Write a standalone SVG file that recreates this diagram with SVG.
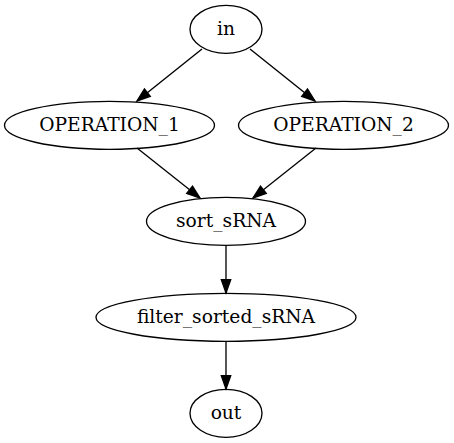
<svg xmlns="http://www.w3.org/2000/svg" width="454" height="443" viewBox="0 0 454 443">
<style>
.n ellipse{fill:none;stroke:#000;stroke-width:1.33}
.n text{font-family:"DejaVu Serif","Liberation Serif",serif;font-size:18.67px;text-anchor:middle;fill:#000}
.e line{stroke:#000;stroke-width:1.33;marker-end:url(#ah)}
</style>
<defs>
<marker id="ah" markerUnits="userSpaceOnUse" markerWidth="16" markerHeight="12" refX="13.3" refY="4.7" orient="auto" overflow="visible">
<path d="M0,0 L13.3,4.7 L0,9.4 z" fill="#000" stroke="#000" stroke-width="1.33"/>
</marker>
</defs>
<rect width="454" height="443" fill="#fff"/>
<g id="edges" class="e">
<line x1="202" y1="49" x2="137" y2="101"/>
<line x1="250" y1="49" x2="315" y2="101"/>
<line x1="137" y1="148" x2="200" y2="198"/>
<line x1="316" y1="148" x2="253" y2="198"/>
<line x1="226" y1="245" x2="226" y2="293"/>
<line x1="226" y1="341" x2="226" y2="389"/>
</g>
<g id="in" class="n"><ellipse cx="226" cy="29.3" rx="36" ry="24"/><text x="226" y="35">in</text></g>
<g id="OPERATION_1" class="n"><ellipse cx="109.5" cy="125.3" rx="105" ry="24"/><text x="109.5" y="131">OPERATION_1</text></g>
<g id="OPERATION_2" class="n"><ellipse cx="343.5" cy="125.3" rx="105" ry="24"/><text x="343.5" y="131">OPERATION_2</text></g>
<g id="sort_sRNA" class="n"><ellipse cx="226" cy="221.3" rx="79.5" ry="24"/><text x="226" y="227">sort_sRNA</text></g>
<g id="filter_sorted_sRNA" class="n"><ellipse cx="226" cy="317.3" rx="130" ry="24"/><text x="226" y="323">filter_sorted_sRNA</text></g>
<g id="out" class="n"><ellipse cx="226" cy="413.3" rx="36" ry="24"/><text x="226" y="419">out</text></g>
</svg>
